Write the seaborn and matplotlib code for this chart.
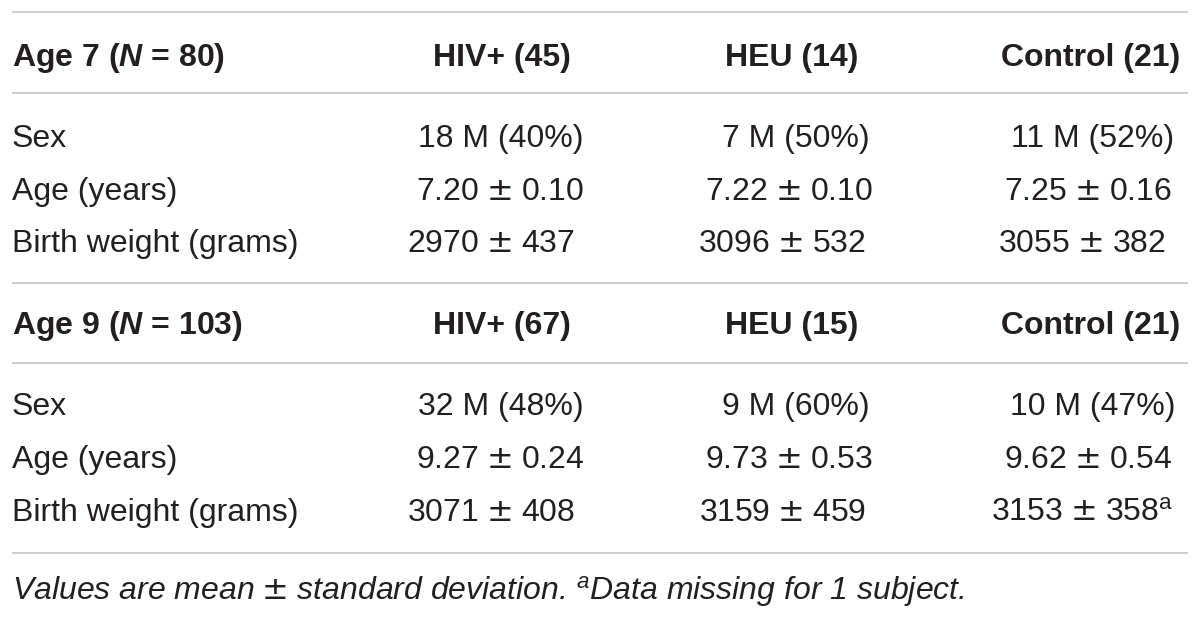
import matplotlib
matplotlib.use("Agg")
import matplotlib.pyplot as plt
import seaborn as sns

# table content
row_labels = ["Sex", "Age (years)", "Birth weight (grams)"]
group_titles = [r"Age 7 ($\mathbfit{N}$ = 80)", r"Age 9 ($\mathbfit{N}$ = 103)"]
col_heads_7 = ["HIV+ (45)", "HEU (14)", "Control (21)"]
col_heads_9 = ["HIV+ (67)", "HEU (15)", "Control (21)"]
sex_7 = ["18 M (40%)", "7 M (50%)", "11 M (52%)"]
age_7 = ["7.20 ± 0.10", "7.22 ± 0.10", "7.25 ± 0.16"]
bw_7 = ["2970 ± 437", "3096 ± 532", "3055 ± 382"]
sex_9 = ["32 M (48%)", "9 M (60%)", "10 M (47%)"]
age_9 = ["9.27 ± 0.24", "9.73 ± 0.53", "9.62 ± 0.54"]
bw_9 = ["3071 ± 408", "3159 ± 459", r"3153 ± 358$^{\mathrm{a}}$"]
footnote = r"Values are mean ± standard deviation. $^{\mathit{a}}$Data missing for 1 subject."

sns.set_theme(style="white")
plt.rcParams["font.family"] = ["Liberation Sans", "DejaVu Sans"]
plt.rcParams["mathtext.fontset"] = "custom"
plt.rcParams["mathtext.rm"] = "Liberation Sans"
plt.rcParams["mathtext.it"] = "Liberation Sans:italic"
plt.rcParams["mathtext.bf"] = "Liberation Sans:bold"
plt.rcParams["mathtext.bfit"] = "Liberation Sans:italic:bold"
plt.rcParams["mathtext.sf"] = "DejaVu Sans"

fig = plt.figure(figsize=(12, 6.17), dpi=100)
ax = fig.add_axes([0, 0, 1, 1])
ax.set_xlim(0, 1200)
ax.set_ylim(617, 0)
ax.axis("off")

txt = "#231f20"
line_c = "#c9c9c9"
fs = 23


def wide_pm(s):
    # the reference uses a broader ± glyph
    return s.replace(" ± ", "\u2005$\\mathsf{\\pm}$\u2005")


for y in [12, 93, 283, 363, 553]:
    ax.hlines(y, 12, 1188, color=line_c, lw=1.3)

head_x = [502, 792, 1091]
data_x = [[501, 796, 1093], [500, 789, 1088], [491, 782, 1082]]

blocks = [
    (group_titles[0], col_heads_7, [sex_7, age_7, bw_7], 66, [147, 200, 252]),
    (group_titles[1], col_heads_9, [sex_9, age_9, bw_9], 334, [415, 468, 521]),
]
for title, heads, rows, hy, rys in blocks:
    ax.text(12, hy, title, fontsize=fs, fontweight="bold", color=txt, va="baseline")
    for x, h in zip(head_x, heads):
        ax.text(x, hy, h, fontsize=fs, fontweight="bold", color=txt, ha="center", va="baseline")
    for label, vals, ry, xs in zip(row_labels, rows, rys, data_x):
        ax.text(12, ry, label, fontsize=fs, color=txt, va="baseline")
        for x, v in zip(xs, vals):
            ax.text(x, ry, wide_pm(v), fontsize=fs, color=txt, ha="center", va="baseline")

ax.text(12, 600, wide_pm(footnote), fontsize=fs, style="italic", color=txt, va="baseline")

fig.savefig("out.png", dpi=100, facecolor="white")
